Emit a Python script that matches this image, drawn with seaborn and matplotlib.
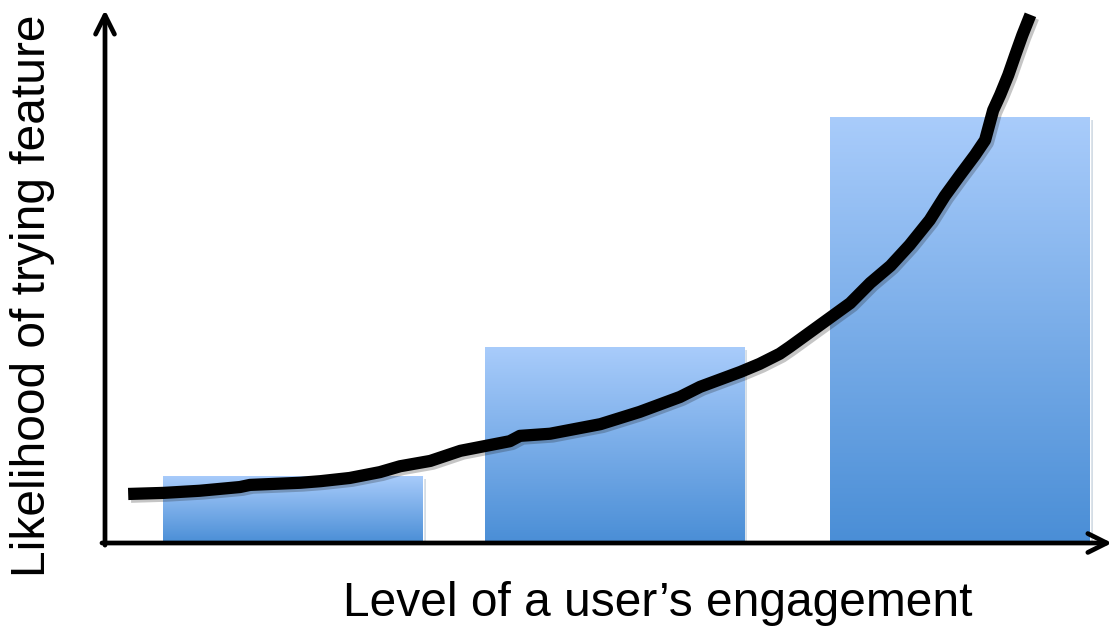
import numpy as np
import pandas as pd
import matplotlib
matplotlib.use("Agg")
import matplotlib.pyplot as plt
import matplotlib.patheffects as pe
from matplotlib.colors import LinearSegmentedColormap
import seaborn as sns

# ---- data (in chart units: x 0..10, y 0..10) ----
bar_positions = [1.87, 5.06, 8.49]
bar_heights = [1.26, 3.68, 7.99]

curve_x = [0.23, 0.58, 0.94, 1.34, 1.44, 1.94, 2.14, 2.43, 2.73, 2.93, 3.23, 3.53,
           4.02, 4.12, 4.42, 4.92, 5.31, 5.71, 5.91, 6.31, 6.50, 6.70, 6.80, 7.10,
           7.40, 7.60, 7.80, 7.99, 8.19, 8.34, 8.49, 8.64, 8.74, 8.82, 8.89, 8.97,
           9.04, 9.11, 9.19]
curve_y = [0.92, 0.94, 0.98, 1.05, 1.09, 1.13, 1.16, 1.22, 1.33, 1.44, 1.54, 1.73,
           1.91, 2.01, 2.05, 2.23, 2.46, 2.74, 2.93, 3.21, 3.36, 3.55, 3.68, 4.09,
           4.50, 4.88, 5.20, 5.59, 6.06, 6.51, 6.90, 7.28, 7.56, 8.12, 8.41, 8.78,
           9.16, 9.53, 9.91]

x_label = "Level of a user\u2019s engagement"
y_label = "Likelihood of trying feature"

sns.set_theme(style="white")
plt.rcParams['font.family'] = ['Liberation Sans', 'DejaVu Sans']
plt.rcParams['text.color'] = 'black'

W, H = 1116, 629
fig = plt.figure(figsize=(W / 100, H / 100), dpi=100)
ax = fig.add_axes([105 / W, (H - 543) / H, (1112 - 105) / W, (543 - 10) / H])
ax.set_xlim(0, 10)
ax.set_ylim(0, 10)

bars_df = pd.DataFrame({"x": bar_positions, "y": bar_heights})
sns.barplot(data=bars_df, x="x", y="y", native_scale=True, width=0.809,
            color="#4A8FD7", saturation=1, ax=ax, zorder=1)

cmap = LinearSegmentedColormap.from_list("g", ["#4A8ED6", "#A9CCFB"])
grad = np.linspace(0, 1, 256).reshape(-1, 1)
for p in list(ax.patches):
    bb = p.get_bbox()
    x0, x1 = bb.x0, bb.x1
    y0, y1 = bb.y0, bb.y1
    p.set_path_effects([pe.SimplePatchShadow(offset=(2, -2), alpha=0.2, rho=0.6), pe.Normal()])
    im = ax.imshow(grad, cmap=cmap, extent=[x0, x1, y0, y1], origin="lower",
                   aspect="auto", zorder=1.5)
    im.set_clip_path(p)

curve_df = pd.DataFrame({"x": curve_x, "y": curve_y})
sns.lineplot(data=curve_df, x="x", y="y", color="black", linewidth=8.8, ax=ax,
             sort=False, zorder=3, solid_capstyle="butt", solid_joinstyle="round",
             path_effects=[pe.SimpleLineShadow(offset=(2, -2), alpha=0.25), pe.Normal()])
for ln in ax.lines:
    ln.set_clip_on(False)

ax.set_xlim(0, 10)
ax.set_ylim(0, 10)
ax.set_xticks([])
ax.set_yticks([])
ax.set_xlabel("")
ax.set_ylabel("")
for s in ax.spines.values():
    s.set_visible(False)
ax.patch.set_alpha(0)

arrow_kw = dict(arrowstyle="->", lw=3.4, color="black", mutation_scale=34,
                shrinkA=0, shrinkB=0)
ax.annotate("", xy=(0, 1.0), xytext=(0, -0.004), xycoords="axes fraction",
            textcoords="axes fraction", arrowprops=arrow_kw, annotation_clip=False)
ax.annotate("", xy=(1.0, 0), xytext=(-0.003, 0), xycoords="axes fraction",
            textcoords="axes fraction", arrowprops=arrow_kw, annotation_clip=False)

fig.text(658 / W, 1 - 603 / H, x_label, ha="center", va="center", fontsize=34.5,
         color="black")
fig.text(33 / W, 1 - 296 / H, y_label, ha="center", va="center", fontsize=34.5,
         rotation=90, color="black")

fig.savefig("out.png", dpi=100)
